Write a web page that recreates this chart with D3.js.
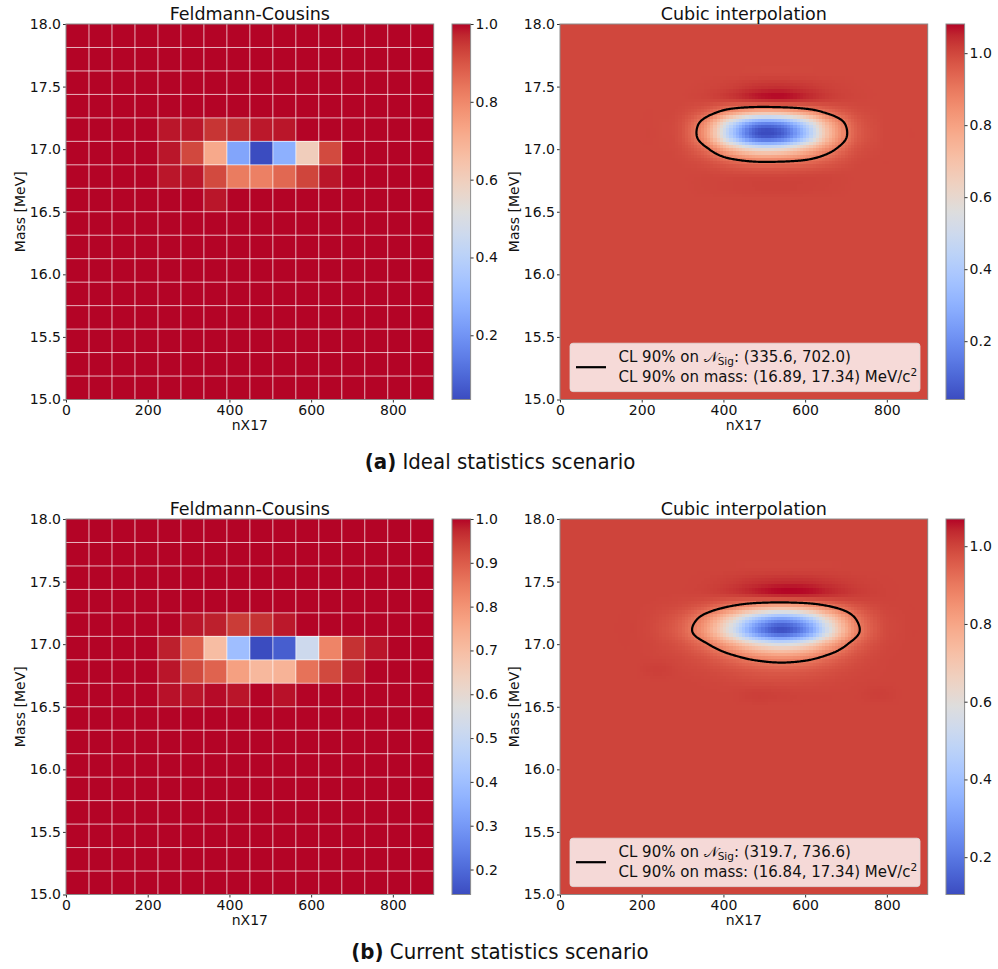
<!DOCTYPE html>
<html><head><meta charset="utf-8">
<script src="https://cdn.jsdelivr.net/npm/d3@7"></script>
<style>
body{margin:0;background:#fff;}
svg text{font-family:"DejaVu Sans",sans-serif;fill:#111;}
</style></head><body>
<svg id="chart" width="998" height="969"></svg>
<script>
// ---------------- DATA ----------------
const nRange = [0, 900];
const massRange = [15, 18];
const nTicks = [0, 200, 400, 600, 800];
const massTicks = [15.0, 15.5, 16.0, 16.5, 17.0, 17.5, 18.0];

// Feldmann-Cousins grid: 16 x 16 bins, all 1.0 except a patch
const fcBinsN = 16, fcBinsMass = 16;
const fcPatchRow0 = 8;   // mass bin index (from bottom) of first patch row
const fcPatchCol0 = 4;   // nX17 bin index of first patch column
const fcIdeal = [
  [1.000, 1.000, 0.985, 1.000, 1.000, 1.000, 1.000, 1.000, 1.000, 1.000],
  [0.985, 0.985, 0.920, 0.826, 0.817, 0.865, 0.928, 0.985, 1.000, 1.000],
  [0.985, 0.923, 0.720, 0.247, 0.035, 0.276, 0.604, 0.920, 1.000, 1.000],
  [0.985, 0.985, 0.952, 0.966, 0.983, 0.985, 1.000, 1.000, 1.000, 1.000]
];
const fcCurrent = [
  [0.990, 0.987, 0.995, 0.987, 1.000, 0.990, 1.000, 1.000, 1.000, 1.000],
  [0.987, 0.930, 0.888, 0.773, 0.713, 0.726, 0.863, 0.930, 0.979, 1.000],
  [0.979, 0.897, 0.700, 0.400, 0.143, 0.178, 0.520, 0.830, 0.961, 0.987],
  [1.000, 0.987, 0.979, 0.949, 0.961, 0.985, 1.000, 1.000, 1.000, 1.000]
];
const fcIdealTicks = [0.2, 0.4, 0.6, 0.8, 1.0];
const fcCurrentTicks = [0.2, 0.3, 0.4, 0.5, 0.6, 0.7, 0.8, 0.9, 1.0];

// Cubic interpolation: node grid, all 1.0 except a patch
const cubicNodesN = [0, 60, 120, 180, 240, 300, 360, 420, 480, 540, 600, 660, 720, 780, 840, 900];
const cubicNodesMass = [15.0, 15.1, 15.2, 15.3, 15.4, 15.5, 15.6, 15.7, 15.8, 15.9, 16.0, 16.1, 16.2, 16.3, 16.4,
  16.5, 16.6, 16.7, 16.8, 16.9, 17.0, 17.1, 17.2, 17.3, 17.4, 17.5, 17.6, 17.7, 17.8, 17.9, 18.0];
const cubicPatchN = [240, 300, 360, 420, 480, 540, 600, 660, 720, 780, 840];
const cubicPatchMass = [16.6, 16.7, 16.8, 16.9, 17.0, 17.1, 17.2, 17.3, 17.4, 17.5, 17.6];
const cubicIdeal = [
  [1.000, 1.000, 1.000, 1.000, 1.000, 1.000, 1.000, 1.000, 1.000, 1.000, 1.000],
  [1.000, 1.000, 1.003, 1.006, 1.008, 1.009, 1.007, 1.004, 1.000, 1.000, 1.000],
  [1.000, 1.000, 1.000, 0.996, 0.994, 0.994, 0.997, 1.000, 1.000, 1.000, 1.000],
  [1.000, 0.997, 0.979, 0.934, 0.900, 0.901, 0.920, 0.960, 0.994, 1.000, 1.000],
  [0.999, 0.988, 0.912, 0.730, 0.588, 0.592, 0.716, 0.870, 0.974, 0.997, 1.000],
  [0.999, 0.974, 0.807, 0.406, 0.093, 0.102, 0.375, 0.743, 0.944, 0.994, 1.000],
  [0.999, 0.976, 0.827, 0.468, 0.188, 0.195, 0.440, 0.770, 0.950, 0.995, 1.000],
  [1.000, 0.993, 0.949, 0.842, 0.760, 0.762, 0.834, 0.932, 0.985, 0.998, 1.000],
  [1.000, 1.000, 1.004, 1.018, 1.047, 1.061, 1.040, 1.014, 1.003, 1.000, 1.000],
  [1.000, 1.000, 1.003, 1.012, 1.030, 1.035, 1.025, 1.010, 1.002, 1.000, 1.000],
  [1.000, 1.000, 1.000, 1.000, 1.000, 1.000, 1.000, 1.000, 1.000, 1.000, 1.000]
];
const cubicCurrent = [
  [1.000, 1.000, 1.000, 1.000, 1.008, 1.004, 1.000, 1.000, 1.000, 1.008, 1.000],
  [1.000, 1.000, 0.997, 0.993, 0.987, 0.985, 0.987, 0.993, 0.998, 1.000, 1.000],
  [1.008, 0.996, 0.988, 0.973, 0.955, 0.946, 0.954, 0.974, 0.991, 0.998, 1.000],
  [0.997, 0.988, 0.964, 0.917, 0.860, 0.831, 0.856, 0.920, 0.973, 0.995, 1.000],
  [0.993, 0.969, 0.905, 0.783, 0.634, 0.558, 0.622, 0.790, 0.931, 0.987, 0.999],
  [0.985, 0.939, 0.812, 0.568, 0.270, 0.120, 0.248, 0.581, 0.862, 0.975, 0.998],
  [0.988, 0.951, 0.849, 0.653, 0.415, 0.294, 0.396, 0.664, 0.889, 0.980, 0.998],
  [0.996, 0.985, 0.953, 0.891, 0.817, 0.780, 0.812, 0.895, 0.965, 0.994, 1.000],
  [1.000, 0.999, 1.002, 1.013, 1.035, 1.055, 1.054, 1.034, 1.014, 1.004, 1.000],
  [1.000, 1.000, 1.003, 1.012, 1.025, 1.033, 1.032, 1.020, 1.008, 1.002, 1.000],
  [1.000, 1.000, 1.000, 1.000, 1.000, 1.000, 1.000, 1.000, 1.000, 1.000, 1.000]
];
const cubicIdealRange = [0.038, 1.081];
const cubicCurrentRange = [0.104, 1.070];
const cubicTicks = [0.2, 0.4, 0.6, 0.8, 1.0];
const clLevel = 0.9;
const legendIdeal = ["(335.6, 702.0)", "(16.89, 17.34)"];
const legendCurrent = ["(319.7, 736.6)", "(16.84, 17.34)"];
const titles = ["Feldmann-Cousins", "Cubic interpolation"];
const captions = [["(a)", " Ideal statistics scenario"], ["(b)", " Current statistics scenario"]];

// matplotlib coolwarm control points
const coolwarmStops = [
[0.2298057,0.298717966,0.753683153],[0.26623388,0.353094838,0.801466763],[0.30386891,0.406535296,0.84495867],
[0.342804478,0.458757618,0.883725899],[0.38301334,0.50941904,0.917387822],[0.424369608,0.558148092,0.945619588],
[0.46666708,0.604562568,0.968154911],[0.509635204,0.648280772,0.98478814],[0.552953156,0.688929332,0.995375608],
[0.596262162,0.726149107,0.999836203],[0.639176211,0.759599947,0.998151185],[0.681291281,0.788964712,0.990363227],
[0.722193294,0.813952739,0.976574709],[0.761464949,0.834302879,0.956945269],[0.798691636,0.849786142,0.931688648],
[0.833466556,0.860207984,0.901068838],[0.865395197,0.86541021,0.865395561],[0.897787179,0.848937047,0.820880546],
[0.924127593,0.827384882,0.774508472],[0.944468518,0.800927443,0.726736146],[0.958852946,0.769767752,0.678007945],
[0.96732803,0.734132809,0.628751763],[0.969954137,0.694266682,0.579375448],[0.966811177,0.650421156,0.530263762],
[0.958003065,0.602842431,0.481775914],[0.943660866,0.551750968,0.434243684],[0.923944917,0.49730856,0.387970225],
[0.89904617,0.439559467,0.343229596],[0.869186849,0.378313092,0.300267182],[0.834620542,0.312874446,0.259301199],
[0.795631745,0.24128379,0.220525627],[0.752534934,0.157246067,0.184115123],[0.705673158,0.01555616,0.150232812]];

// ---------------- HELPERS ----------------
const cw = d3.scaleLinear()
  .domain(coolwarmStops.map((_, i) => i / (coolwarmStops.length - 1)))
  .range(coolwarmStops.map(c => d3.rgb(c[0] * 255, c[1] * 255, c[2] * 255).toString()))
  .interpolate(d3.interpolateRgb).clamp(true);

const svg = d3.select('#chart');
const defs = svg.append('defs');
const PW = 367.7, PH = 375.5;
const colLeft = [66, 560];
const rowTop = [24, 519];
const CB_OFF = 386, CB_W = 18.6;

function fullFC(patch) {
  const m = [];
  for (let r = 0; r < fcBinsMass; r++) {
    const row = [];
    for (let c = 0; c < fcBinsN; c++) {
      const pr = r - fcPatchRow0, pc = c - fcPatchCol0;
      row.push(pr >= 0 && pr < patch.length && pc >= 0 && pc < patch[0].length ? patch[pr][pc] : 1.0);
    }
    m.push(row);
  }
  return m;
}
function fullNodes(patch) {
  const g = cubicNodesMass.map(() => cubicNodesN.map(() => 1.0));
  cubicPatchMass.forEach((ym, r) => {
    const iy = cubicNodesMass.findIndex(v => Math.abs(v - ym) < 1e-6);
    cubicPatchN.forEach((xn, c) => {
      const ix = cubicNodesN.indexOf(xn);
      g[iy][ix] = patch[r][c];
    });
  });
  return g;
}
function cr(p0, p1, p2, p3, t) {
  return 0.5 * (2 * p1 + (-p0 + p2) * t + (2 * p0 - 5 * p1 + 4 * p2 - p3) * t * t + (-p0 + 3 * p1 - 3 * p2 + p3) * t * t * t);
}
function bicubic(g, x, y) {
  const nx = cubicNodesN.length, ny = cubicNodesMass.length;
  const fx = (x - cubicNodesN[0]) / (cubicNodesN[1] - cubicNodesN[0]);
  const fy = (y - cubicNodesMass[0]) / (cubicNodesMass[1] - cubicNodesMass[0]);
  const ix = Math.max(0, Math.min(nx - 2, Math.floor(fx))), iy = Math.max(0, Math.min(ny - 2, Math.floor(fy)));
  const tx = fx - ix, ty = fy - iy;
  const cl = (v, n) => Math.max(0, Math.min(n - 1, v));
  const rows = [];
  for (let m = -1; m <= 2; m++) {
    const rr = g[cl(iy + m, ny)];
    rows.push(cr(rr[cl(ix - 1, nx)], rr[cl(ix, nx)], rr[cl(ix + 1, nx)], rr[cl(ix + 2, nx)], tx));
  }
  return cr(rows[0], rows[1], rows[2], rows[3], ty);
}

function axes(g, x, y, left, top, title) {
  const ax = g.append('g').attr('transform', `translate(0,${top + PH})`)
    .call(d3.axisBottom(x).tickValues(nTicks).tickSize(3).tickPadding(3));
  const ay = g.append('g').attr('transform', `translate(${left},0)`)
    .call(d3.axisLeft(y).tickValues(massTicks).tickFormat(d3.format('.1f')).tickSize(3).tickPadding(2));
  [ax, ay].forEach(a => {
    a.select('.domain').remove();
    a.selectAll('.tick line').attr('stroke', '#333');
    a.selectAll('.tick text').style('font-size', '14px').style('font-family', '"DejaVu Sans",sans-serif').attr('fill', '#111');
  });
  ax.selectAll('.tick text').attr('dy', '0.71em');
  g.append('rect').attr('x', left).attr('y', top).attr('width', PW).attr('height', PH)
    .attr('fill', 'none').attr('stroke', '#8c8c8c').attr('stroke-width', 1);
  g.append('text').attr('x', left + PW / 2).attr('y', top - 4).attr('text-anchor', 'middle')
    .style('font-size', '17.5px').text(title);
  g.append('text').attr('x', left + PW / 2).attr('y', top + PH + 30.5).attr('text-anchor', 'middle')
    .style('font-size', '14px').text('nX17');
  g.append('text').attr('transform', `translate(${left - 41},${top + PH / 2}) rotate(-90)`)
    .attr('text-anchor', 'middle').style('font-size', '14px').text('Mass [MeV]');
}

let gradCount = 0;
function colorbar(g, left, top, domain, ticks) {
  const id = 'cwgrad' + (gradCount++);
  const grad = defs.append('linearGradient').attr('id', id).attr('x1', 0).attr('y1', 1).attr('x2', 0).attr('y2', 0);
  d3.range(0, 1.0001, 1 / 64).forEach(t => grad.append('stop').attr('offset', t).attr('stop-color', cw(t)));
  const x0 = left + CB_OFF;
  g.append('rect').attr('x', x0).attr('y', top).attr('width', CB_W).attr('height', PH)
    .attr('fill', `url(#${id})`).attr('stroke', '#8c8c8c').attr('stroke-width', 1);
  const s = d3.scaleLinear().domain(domain).range([top + PH, top]);
  const a = g.append('g').attr('transform', `translate(${x0 + CB_W},0)`)
    .call(d3.axisRight(s).tickValues(ticks).tickFormat(d3.format('.1f')).tickSize(3).tickPadding(2));
  a.select('.domain').remove();
  a.selectAll('.tick line').attr('stroke', '#333');
  a.selectAll('.tick text').style('font-size', '14px').style('font-family', '"DejaVu Sans",sans-serif').attr('fill', '#111');
}

function drawFC(row, patch, ticks) {
  const left = colLeft[0], top = rowTop[row];
  const g = svg.append('g');
  const x = d3.scaleLinear().domain(nRange).range([left, left + PW]);
  const y = d3.scaleLinear().domain(massRange).range([top + PH, top]);
  const m = fullFC(patch);
  const dom = d3.extent(m.flat());
  const color = v => cw((v - dom[0]) / (dom[1] - dom[0]));
  const edgeN = d3.range(fcBinsN + 1).map(i => nRange[0] + (nRange[1] - nRange[0]) * i / fcBinsN);
  const edgeM = d3.range(fcBinsMass + 1).map(i => massRange[0] + (massRange[1] - massRange[0]) * i / fcBinsMass);
  const cells = [];
  m.forEach((r, ri) => r.forEach((v, ci) => cells.push({ r: ri, c: ci, v })));
  g.append('g').selectAll('rect').data(cells).join('rect')
    .attr('x', d => x(edgeN[d.c])).attr('y', d => y(edgeM[d.r + 1]))
    .attr('width', d => x(edgeN[d.c + 1]) - x(edgeN[d.c]))
    .attr('height', d => y(edgeM[d.r]) - y(edgeM[d.r + 1]))
    .attr('fill', d => color(d.v)).attr('shape-rendering', 'crispEdges');
  const gl = g.append('g').attr('stroke', '#fff').attr('stroke-opacity', 0.7).attr('stroke-width', 1);
  edgeN.slice(1, -1).forEach(e => gl.append('line').attr('x1', x(e)).attr('x2', x(e)).attr('y1', top).attr('y2', top + PH));
  edgeM.slice(1, -1).forEach(e => gl.append('line').attr('y1', y(e)).attr('y2', y(e)).attr('x1', left).attr('x2', left + PW));
  axes(g, x, y, left, top, titles[0]);
  colorbar(g, left, top, dom, ticks);
}

function drawCubic(row, patch, dom, ticks, leg) {
  const left = colLeft[1], top = rowTop[row];
  const g = svg.append('g');
  const x = d3.scaleLinear().domain(nRange).range([left, left + PW]);
  const y = d3.scaleLinear().domain(massRange).range([top + PH, top]);
  const nodes = fullNodes(patch);
  const color = v => cw((v - dom[0]) / (dom[1] - dom[0]));
  const R = 115;
  const dx = (nRange[1] - nRange[0]) / R, dy = (massRange[1] - massRange[0]) / R;
  const px = [];
  for (let j = 0; j < R; j++) for (let i = 0; i < R; i++) {
    const xn = nRange[0] + (i + 0.5) * dx, ym = massRange[0] + (j + 0.5) * dy;
    px.push({ i, j, v: bicubic(nodes, xn, ym) });
  }
  g.append('g').selectAll('rect').data(px).join('rect')
    .attr('x', d => x(nRange[0] + d.i * dx)).attr('y', d => y(massRange[0] + (d.j + 1) * dy))
    .attr('width', d => x(nRange[0] + (d.i + 1) * dx) - x(nRange[0] + d.i * dx))
    .attr('height', d => y(massRange[0] + d.j * dy) - y(massRange[0] + (d.j + 1) * dy))
    .attr('fill', d => color(d.v)).attr('shape-rendering', 'crispEdges');
  // contour at CL level
  const CX = 360, CY = 300;
  const cdx = (nRange[1] - nRange[0]) / CX, cdy = (massRange[1] - massRange[0]) / CY;
  const vals = new Array(CX * CY);
  for (let j = 0; j < CY; j++) for (let i = 0; i < CX; i++) {
    vals[j * CX + i] = -bicubic(nodes, nRange[0] + (i + 0.5) * cdx, massRange[1] - (j + 0.5) * cdy);
  }
  const cont = d3.contours().size([CX, CY]).thresholds([-clLevel])(vals);
  const proj = d3.geoTransform({
    point: function (a, b) { this.stream.point(x(nRange[0] + a * cdx), y(massRange[1] - b * cdy)); }
  });
  g.append('path').datum(cont[0]).attr('d', d3.geoPath(proj))
    .attr('fill', 'none').attr('stroke', '#000').attr('stroke-width', 2.2).attr('stroke-linejoin', 'round');
  axes(g, x, y, left, top, titles[1]);
  colorbar(g, left, top, dom, ticks);
  // legend
  const bx = left + 10, by = top + PH - 56.3;
  const lg = g.append('g');
  lg.append('rect').attr('x', bx).attr('y', by).attr('width', 350).attr('height', 48.4).attr('rx', 3)
    .attr('fill', '#fff').attr('fill-opacity', 0.8).attr('stroke', '#ddd').attr('stroke-opacity', 0.8);
  lg.append('line').attr('x1', left + 16).attr('x2', left + 46).attr('y1', by + 24).attr('y2', by + 24)
    .attr('stroke', '#000').attr('stroke-width', 2.2);
  const t1 = lg.append('text').attr('x', left + 58.5).attr('y', by + 18.4).style('font-size', '15px');
  t1.append('tspan').text('CL 90% on ');
  t1.append('tspan').text('𝒩');
  t1.append('tspan').attr('dy', 3).style('font-size', '10.5px').text('Sig');
  t1.append('tspan').attr('dy', -3).text(': ' + leg[0]);
  const t2 = lg.append('text').attr('x', left + 58.5).attr('y', by + 38.4).style('font-size', '15px');
  t2.append('tspan').text('CL 90% on mass: ' + leg[1] + ' MeV/c');
  t2.append('tspan').attr('dy', -6).style('font-size', '10.5px').text('2');
}

drawFC(0, fcIdeal, fcIdealTicks);
drawCubic(0, cubicIdeal, cubicIdealRange, cubicTicks, legendIdeal);
drawFC(1, fcCurrent, fcCurrentTicks);
drawCubic(1, cubicCurrent, cubicCurrentRange, cubicTicks, legendCurrent);

// captions
[469, 959].forEach((yy, k) => {
  const t = svg.append('text').attr('x', 500).attr('y', yy).attr('text-anchor', 'middle')
    .style('font-size', '22px').style('font-family', '"DejaVu Sans Condensed","DejaVu Sans",sans-serif')
    .style('font-stretch', 'condensed');
  t.append('tspan').style('font-weight', 'bold').text(captions[k][0]);
  t.append('tspan').text(captions[k][1]);
});
</script>
</body></html>
